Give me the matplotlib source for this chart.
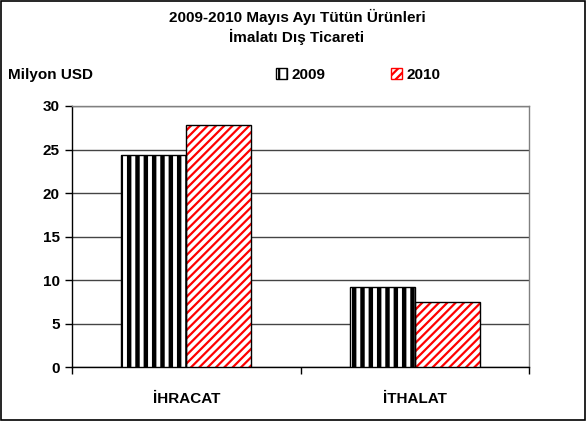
import matplotlib
matplotlib.use("Agg")
import matplotlib.pyplot as plt
from matplotlib.patches import Rectangle, Patch
import numpy as np

plt.rcParams['font.family'] = ['Liberation Sans', 'DejaVu Sans']
plt.rcParams['font.weight'] = 'bold'

title = "2009-2010 Mayıs Ayı Tütün Ürünleri\nİmalatı Dış Ticareti"
ylabel = "Milyon USD"
categories = ["İHRACAT", "İTHALAT"]
series_names = ["2009", "2010"]
values_2009 = [24.4, 9.2]
values_2010 = [27.8, 7.5]
yticks = [0, 5, 10, 15, 20, 25, 30]

W, H = 587, 423
FS = 11
fig = plt.figure(figsize=(W / 100, H / 100), dpi=100)
ax = fig.add_axes([72 / W, 1 - 367.3 / H, (529 - 72) / W, (367.3 - 106) / H])

x = np.arange(len(categories))
bw = 0.285

plt.rcParams['hatch.linewidth'] = 3.2
# 2009 bars: vertical black stripes
ax.bar(x - bw / 2, values_2009, bw, color='white', edgecolor='black', hatch='||', linewidth=0, zorder=3)
ax.bar(x - bw / 2, values_2009, bw, color='none', edgecolor='black', linewidth=1.0, zorder=4)

# 2010 bars: red diagonal stripes
plt.rcParams['hatch.linewidth'] = 1.6
ax.bar(x + bw / 2, values_2010, bw, color='white', edgecolor='#ff0000', hatch='////', linewidth=0, zorder=3)
ax.bar(x + bw / 2, values_2010, bw, color='none', edgecolor='black', linewidth=1.0, zorder=4)

ax.set_xlim(-0.5, 1.5)
ax.set_ylim(0, 30)
ax.set_yticks(yticks)
ax.set_yticklabels([str(t) for t in yticks], fontsize=FS, fontweight='bold')
ax.set_xticks(x)
ax.set_xticklabels(categories, fontsize=FS, fontweight='bold')
ax.tick_params(axis='x', which='major', length=0, pad=18)
ax.set_xticks([-0.5, 0.5, 1.5], minor=True)
ax.tick_params(axis='x', which='minor', length=5, direction='out', width=1)
ax.tick_params(axis='y', length=5, direction='out', width=1, pad=4)

ax.yaxis.grid(True, color='#444444', linewidth=1.0, zorder=0)
ax.set_axisbelow(True)
for s in ['left', 'bottom']:
    ax.spines[s].set_color('black')
    ax.spines[s].set_linewidth(1.0)
for s in ['top', 'right']:
    ax.spines[s].set_color('#808080')
    ax.spines[s].set_linewidth(1.0)

fig.text(297 / W, 1 - 27 / H, title, ha='center', va='center', fontsize=FS,
         fontweight='bold', linespacing=1.25)
fig.text(8 / W, 1 - 75 / H, ylabel, ha='left', va='center', fontsize=FS, fontweight='bold')

handles = [
    Patch(facecolor='white', edgecolor='black', hatch='||', linewidth=1.0),
    Patch(facecolor='white', edgecolor='#ff0000', hatch='////', linewidth=1.0),
]
leg = fig.legend(handles, series_names, loc='center left', bbox_to_anchor=(276 / W, 1 - 75 / H),
                 ncol=2, frameon=False, fontsize=FS, handlelength=0.7, handleheight=0.7,
                 handletextpad=0.3, columnspacing=4.3, borderaxespad=0, borderpad=0)
for t in leg.get_texts():
    t.set_fontweight('bold')

fig.patches.append(Rectangle((1 / W, 1 - 420 / H), 584 / W, 419 / H, transform=fig.transFigure,
                             fill=False, edgecolor='black', linewidth=1.2))

fig.savefig('out.png', dpi=100)
